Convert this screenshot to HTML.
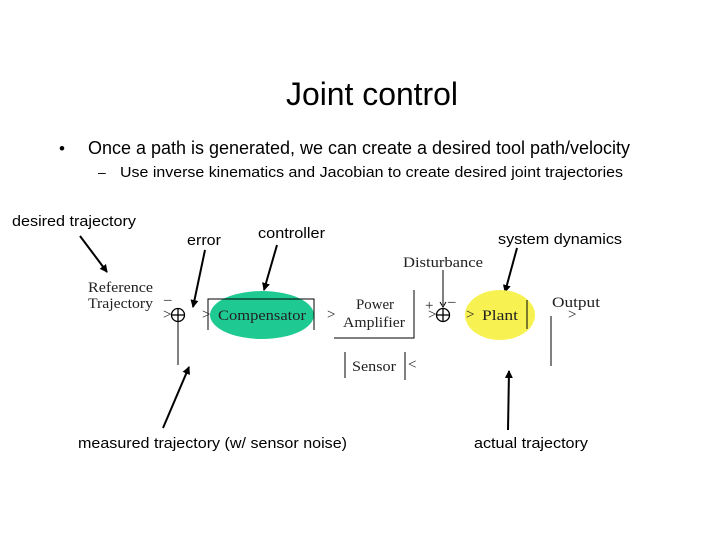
<!DOCTYPE html>
<html><head><meta charset="utf-8"><style>
html,body{margin:0;padding:0;background:#fff;}
svg{display:block;}
.s{font-family:"Liberation Sans",sans-serif;fill:#000;}
.r{font-family:"Liberation Serif",serif;fill:#222;font-size:15px;}
</style></head><body>
<svg width="720" height="540" viewBox="0 0 720 540">
<defs><marker id="a" markerWidth="8" markerHeight="8" refX="7" refY="4" orient="auto" markerUnits="userSpaceOnUse"><path d="M0,0 L8,4 L0,8 z" fill="#000"/></marker></defs>
<text class="s" x="286" y="105" font-size="32" textLength="172" lengthAdjust="spacingAndGlyphs">Joint control</text>
<text class="s" x="59" y="154" font-size="17">•</text>
<text class="s" x="88" y="154" font-size="18" textLength="542" lengthAdjust="spacingAndGlyphs">Once a path is generated, we can create a desired tool path/velocity</text>
<text class="s" x="98" y="177" font-size="14">–</text>
<text class="s" x="120" y="177" font-size="15" textLength="503" lengthAdjust="spacingAndGlyphs">Use inverse kinematics and Jacobian to create desired joint trajectories</text>
<text class="s" x="12" y="226" font-size="15" textLength="124" lengthAdjust="spacingAndGlyphs">desired trajectory</text>
<text class="s" x="187" y="245" font-size="15" textLength="34" lengthAdjust="spacingAndGlyphs">error</text>
<text class="s" x="258" y="238" font-size="15" textLength="67" lengthAdjust="spacingAndGlyphs">controller</text>
<text class="s" x="498" y="244" font-size="15" textLength="124" lengthAdjust="spacingAndGlyphs">system dynamics</text>
<text class="s" x="78" y="448" font-size="15" textLength="269" lengthAdjust="spacingAndGlyphs">measured trajectory (w/ sensor noise)</text>
<text class="s" x="474" y="448" font-size="15" textLength="114" lengthAdjust="spacingAndGlyphs">actual trajectory</text>
<g stroke="#000" stroke-width="2" marker-end="url(#a)">
<line x1="80" y1="236" x2="107" y2="272"/>
<line x1="205" y1="250" x2="193" y2="307"/>
<line x1="277" y1="245" x2="264" y2="290"/>
<line x1="517" y1="248" x2="505" y2="292"/>
<line x1="163" y1="428" x2="189" y2="367"/>
<line x1="508" y1="430" x2="509" y2="371"/>
</g>
<text class="r" x="88" y="292" textLength="65" lengthAdjust="spacingAndGlyphs">Reference</text>
<text class="r" x="88" y="308" textLength="65" lengthAdjust="spacingAndGlyphs">Trajectory</text>
<text class="r" x="164" y="304">–</text>
<text class="r" x="163" y="319" font-size="11">&gt;</text>
<circle cx="178" cy="315" r="6.5" fill="none" stroke="#000" stroke-width="1.3"/>
<line x1="171.5" y1="315" x2="184.5" y2="315" stroke="#000" stroke-width="1.3"/>
<line x1="178" y1="308.5" x2="178" y2="321.5" stroke="#000" stroke-width="1.3"/>
<line x1="178" y1="322" x2="178" y2="365" stroke="#000"/>
<ellipse cx="262" cy="315" rx="52" ry="24" fill="#1fca92"/>
<path d="M208,330 V299 H314 V330" fill="none" stroke="#000"/>
<text class="r" x="202" y="319" font-size="11">&gt;</text>
<text class="r" x="218" y="320" textLength="88" lengthAdjust="spacingAndGlyphs">Compensator</text>
<text class="r" x="327" y="319" font-size="11">&gt;</text>
<text class="r" x="356" y="309" textLength="38" lengthAdjust="spacingAndGlyphs">Power</text>
<text class="r" x="343" y="327" textLength="62" lengthAdjust="spacingAndGlyphs">Amplifier</text>
<path d="M334,338 H414 V290" fill="none" stroke="#000"/>
<line x1="345" y1="352" x2="345" y2="378" stroke="#000"/>
<text class="r" x="352" y="371" textLength="44" lengthAdjust="spacingAndGlyphs">Sensor</text>
<line x1="405" y1="352" x2="405" y2="380" stroke="#000"/>
<text class="r" x="408" y="369" font-size="11">&lt;</text>
<text class="r" x="403" y="267" textLength="80" lengthAdjust="spacingAndGlyphs">Disturbance</text>
<line x1="443" y1="270" x2="443" y2="305" stroke="#000"/>
<path d="M440,302 L443,307 L446,302" fill="none" stroke="#000"/>
<text class="r" x="425" y="310">+</text>
<text class="r" x="448" y="306">–</text>
<text class="r" x="428" y="319" font-size="11">&gt;</text>
<circle cx="443" cy="315" r="6.5" fill="none" stroke="#000" stroke-width="1.3"/>
<line x1="436.5" y1="315" x2="449.5" y2="315" stroke="#000" stroke-width="1.3"/>
<line x1="443" y1="308.5" x2="443" y2="321.5" stroke="#000" stroke-width="1.3"/>
<ellipse cx="500" cy="315" rx="35" ry="25" fill="#f7f252"/>
<text class="r" x="466" y="319" font-size="11">&gt;</text>
<text class="r" x="482" y="320" textLength="36" lengthAdjust="spacingAndGlyphs">Plant</text>
<line x1="527" y1="300" x2="527" y2="329" stroke="#000"/>
<text class="r" x="552" y="307" textLength="48" lengthAdjust="spacingAndGlyphs">Output</text>
<text class="r" x="568" y="319" font-size="11">&gt;</text>
<line x1="551" y1="316" x2="551" y2="366" stroke="#000"/>
</svg>
</body></html>
